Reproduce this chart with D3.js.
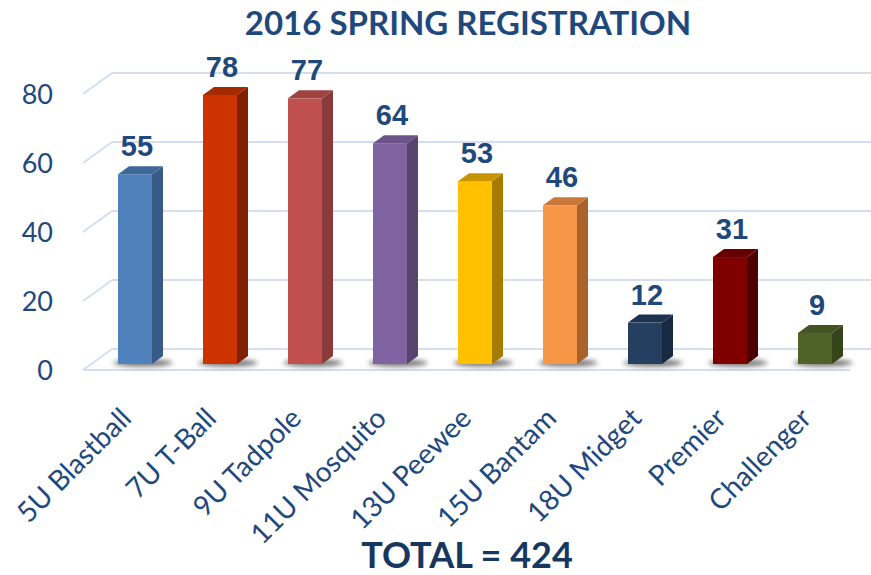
<!DOCTYPE html>
<html>
<head>
<meta charset="utf-8">
<script src="https://cdn.jsdelivr.net/npm/d3@7"></script>
<style>
  body { margin: 0; background: #fff; }
  svg { display: block; }
</style>
</head>
<body>
<svg id="chart" width="871" height="575"></svg>
<script>
const categories = ["5U Blastball", "7U T-Ball", "9U Tadpole", "11U Mosquito", "13U Peewee",
  "15U Bantam", "18U Midget", "Premier", "Challenger"];
const values = [55, 78, 77, 64, 53, 46, 12, 31, 9];
const frontColors = ["#4f81bd", "#cc3300", "#c0504d", "#8064a2", "#ffc000", "#f79646", "#243f60", "#800000", "#4f6228"];
const sideColors = ["#375a86", "#7f2000", "#8a3a38", "#58456f", "#a67c00", "#a8622a", "#172a42", "#4d0000", "#36441b"];
const topColors = ["#3f679a", "#a52a00", "#9e4340", "#6a5488", "#c79500", "#c9773a", "#1c334f", "#650000", "#435322"];
const yTicks = [0, 20, 40, 60, 80];
const title = "2016 SPRING REGISTRATION";
const total = "TOTAL = 424";

const svg = d3.select("#chart");
const textCol = "#1f497d";
const gridCol = "#d3dff0";

// perspective of the walls / bars
const wall = { dx: 29, dy: -21 };
const depth = { dx: 11, dy: -8 };

const x = d3.scaleBand().domain(categories).range([92.5, 857.5]).padding(0);
const yFront = d3.scaleLinear().domain([0, 80]).range([370, 94]);
const yBar = d3.scaleLinear().domain([0, 80]).range([364, 88]);
const barW = x.bandwidth() * 0.4;

const defs = svg.append("defs");
defs.append("filter").attr("id", "blur")
  .attr("x", "-50%").attr("y", "-200%").attr("width", "200%").attr("height", "500%")
  .append("feGaussianBlur").attr("stdDeviation", 2.5);

// grid: left wall diagonals + back lines
const grid = svg.append("g").attr("stroke", gridCol).attr("stroke-width", 2).attr("fill", "none");
grid.selectAll("line.back").data(yTicks).join("line")
  .attr("x1", 83 + wall.dx).attr("x2", 871)
  .attr("y1", d => yFront(d) + wall.dy).attr("y2", d => yFront(d) + wall.dy);
grid.selectAll("line.diag").data(yTicks).join("line")
  .attr("x1", 83).attr("x2", 83 + wall.dx)
  .attr("y1", d => yFront(d)).attr("y2", d => yFront(d) + wall.dy);
grid.append("line")
  .attr("x1", 83).attr("x2", 850)
  .attr("y1", yFront(0)).attr("y2", yFront(0));

// y axis labels
svg.append("g").selectAll("text").data(yTicks).join("text")
  .attr("x", 53).attr("y", d => yFront(d))
  .attr("dy", "0.36em")
  .attr("text-anchor", "end")
  .attr("font-family", "Lato, 'Open Sans', sans-serif")
  .attr("font-size", 27)
  .attr("fill", textCol)
  .text(d => d);

// bars
const bars = svg.append("g").selectAll("g").data(values).join("g");

bars.append("ellipse")
  .attr("cx", (d, i) => x(categories[i]) + x.bandwidth() / 2 + 8)
  .attr("cy", yBar(0) - 1)
  .attr("rx", 30).attr("ry", 3.5)
  .attr("fill", "#000").attr("opacity", 0.55)
  .attr("filter", "url(#blur)");

bars.append("rect")
  .attr("x", (d, i) => x(categories[i]) + (x.bandwidth() - barW) / 2)
  .attr("y", d => yBar(d))
  .attr("width", barW)
  .attr("height", d => yBar(0) - yBar(d))
  .attr("fill", (d, i) => frontColors[i]);

bars.append("path")
  .attr("d", (d, i) => {
    const x0 = x(categories[i]) + (x.bandwidth() + barW) / 2;
    const yt = yBar(d), yb = yBar(0);
    return `M${x0},${yt}L${x0 + depth.dx},${yt + depth.dy}L${x0 + depth.dx},${yb + depth.dy}L${x0},${yb}Z`;
  })
  .attr("fill", (d, i) => sideColors[i]);

bars.append("path")
  .attr("d", (d, i) => {
    const x0 = x(categories[i]) + (x.bandwidth() - barW) / 2;
    const yt = yBar(d);
    return `M${x0},${yt}L${x0 + depth.dx},${yt + depth.dy}L${x0 + barW + depth.dx},${yt + depth.dy}L${x0 + barW},${yt}Z`;
  })
  .attr("fill", (d, i) => topColors[i]);

// value labels
bars.append("text")
  .attr("x", (d, i) => x(categories[i]) + x.bandwidth() / 2 + 2)
  .attr("y", d => yBar(d) - 18)
  .attr("text-anchor", "middle")
  .attr("font-family", "'Liberation Sans', Arial, sans-serif")
  .attr("font-weight", "bold")
  .attr("font-size", 29)
  .attr("fill", textCol)
  .text(d => d);

// category labels
svg.append("g").selectAll("text").data(categories).join("text")
  .attr("transform", d => `translate(${x(d) + x.bandwidth() / 2 - 2},${420}) rotate(-45)`)
  .attr("text-anchor", "end")
  .attr("font-family", "Lato, 'Open Sans', sans-serif")
  .attr("font-size", 28)
  .attr("fill", textCol)
  .text(d => d);

// title
svg.append("text")
  .attr("x", 468).attr("y", 35)
  .attr("text-anchor", "middle")
  .attr("font-family", "Lato, 'Open Sans', sans-serif")
  .attr("font-weight", "bold")
  .attr("font-size", 33)
  .attr("fill", textCol)
  .text(title);

// total
svg.append("text")
  .attr("x", 467).attr("y", 568)
  .attr("text-anchor", "middle")
  .attr("font-family", "Lato, 'Open Sans', sans-serif")
  .attr("font-weight", "bold")
  .attr("font-size", 36)
  .attr("fill", "#17375e")
  .text(total);
</script>
</body>
</html>
